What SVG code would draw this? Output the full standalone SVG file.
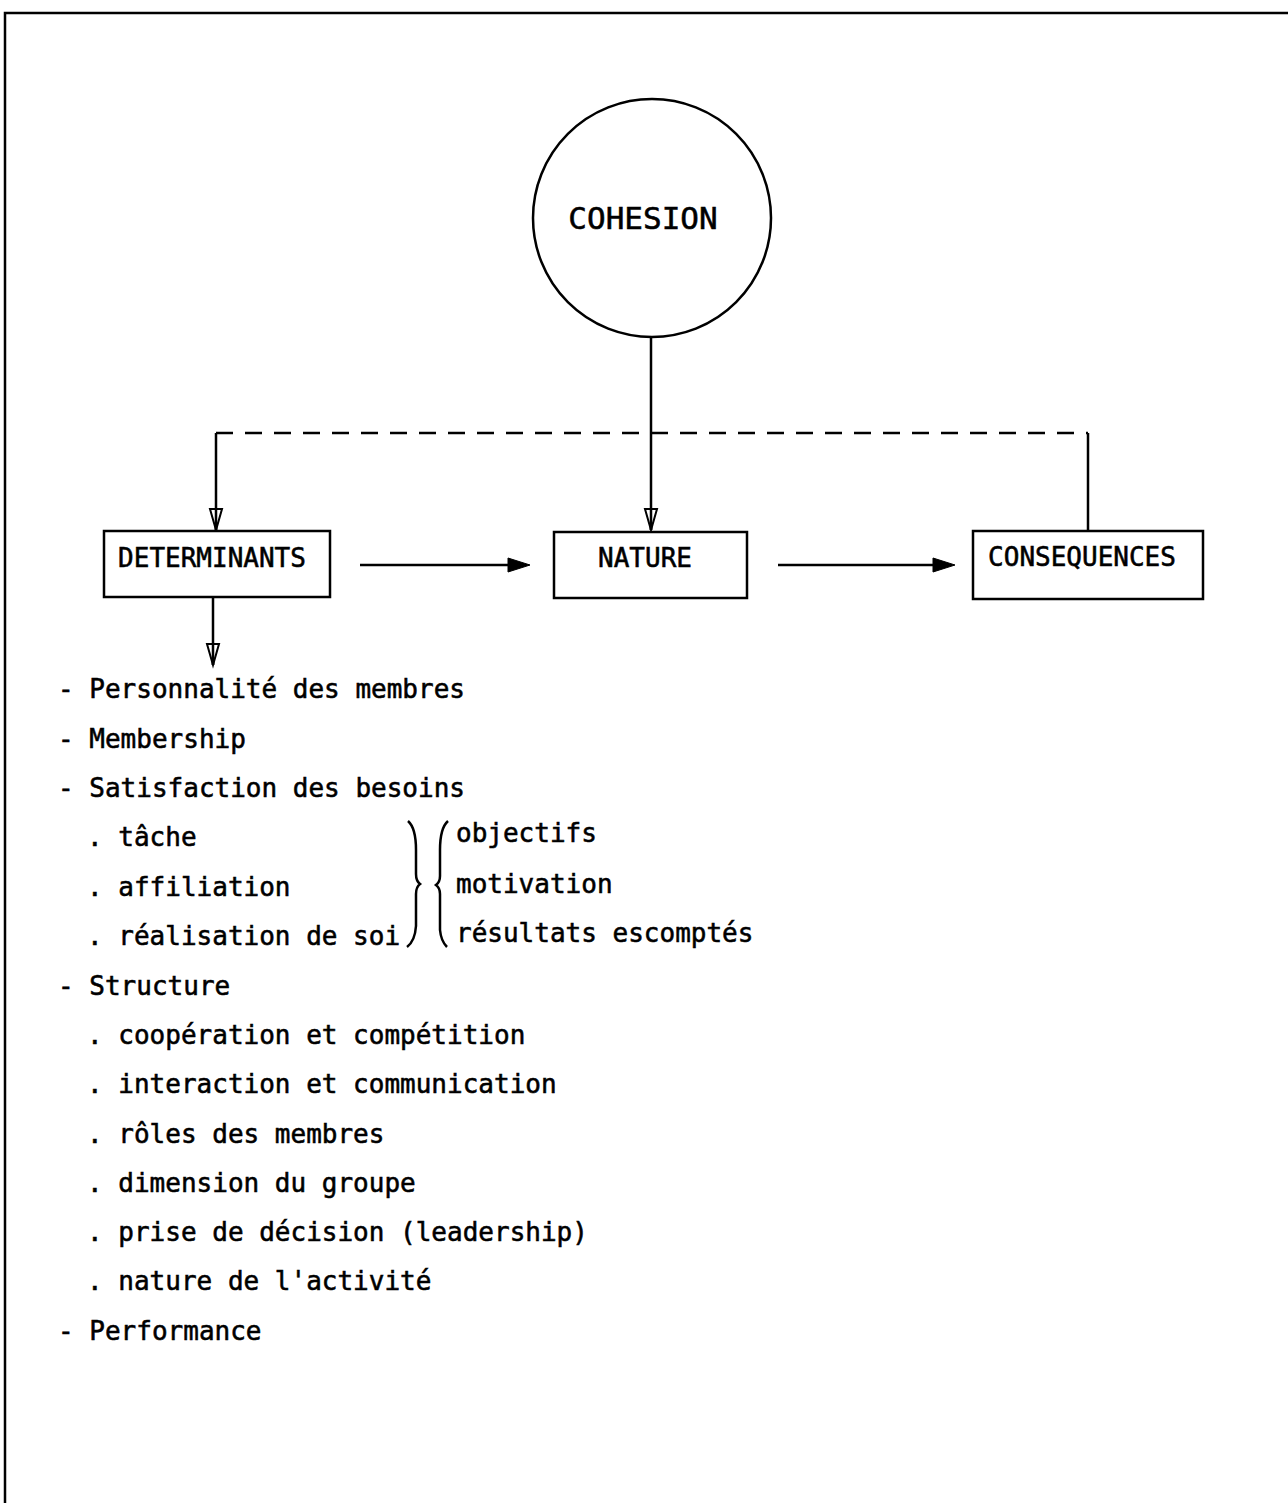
<svg xmlns="http://www.w3.org/2000/svg" width="1288" height="1503" viewBox="0 0 1288 1503">
  <style>
    .ln { stroke: #000; stroke-width: 2.5; fill: none; }
    .dash { stroke: #000; stroke-width: 2.5; fill: none; stroke-dasharray: 17 12; }
    .box { stroke: #000; stroke-width: 2.5; fill: #fff; }
    .t { font-family: "DejaVu Sans Mono", "Liberation Mono", monospace; font-size: 26px; fill: #000; stroke: #000; stroke-width: 0.55; }
    .big { font-size: 31px; }
    .head { fill: #000; stroke: #000; stroke-width: 1; }
    .open { fill: #fff; stroke: #000; stroke-width: 2; }
  </style>
  <rect width="1288" height="1503" fill="#fff"/>

  <!-- page frame (top and left edges) -->
  <path class="ln" d="M5,1503 L5,13 L1288,13" stroke-width="3"/>

  <!-- connectors -->
  <g id="connectors">
    <line class="ln" x1="651" y1="337" x2="651" y2="530"/>
    <polygon class="open" points="651,530 645,509 657,509"/>
    <line class="ln" x1="651" y1="509" x2="651" y2="530"/>

    <line class="dash" x1="216" y1="433" x2="1088" y2="433"/>
    <path class="ln" d="M216,433 L216,530"/>
    <polygon class="open" points="216,530 210,509 222,509"/>
    <line class="ln" x1="216" y1="509" x2="216" y2="530"/>
    <path class="ln" d="M1088,433 L1088,531"/>

    <line class="ln" x1="213" y1="597" x2="213" y2="665"/>
    <polygon class="open" points="213,665 207,644 219,644"/>
    <line class="ln" x1="213" y1="644" x2="213" y2="665"/>

    <line class="ln" x1="360" y1="565" x2="512" y2="565"/>
    <polygon class="head" points="530,565 508,558 508,572"/>
    <line class="ln" x1="778" y1="565" x2="937" y2="565"/>
    <polygon class="head" points="955,565 933,558 933,572"/>
  </g>

  <g id="cohesion">
    <circle class="ln" cx="652" cy="218" r="119"/>
    <text class="t big" x="643" y="229" text-anchor="middle">COHESION</text>
  </g>

  <g id="determinants">
    <rect class="box" x="104" y="531" width="226" height="66"/>
    <text class="t" x="212" y="567" text-anchor="middle">DETERMINANTS</text>
  </g>

  <g id="nature">
    <rect class="box" x="554" y="532" width="193" height="66"/>
    <text class="t" x="645" y="567" text-anchor="middle">NATURE</text>
  </g>

  <g id="consequences">
    <rect class="box" x="973" y="531" width="230" height="68"/>
    <text class="t" x="1082" y="566" text-anchor="middle">CONSEQUENCES</text>
  </g>

  <g id="list">
    <text class="t" x="58" y="698">- Personnalité des membres</text>
    <text class="t" x="58" y="748">- Membership</text>
    <text class="t" x="58" y="797">- Satisfaction des besoins</text>
    <text class="t" x="87" y="846">. tâche</text>
    <text class="t" x="87" y="896">. affiliation</text>
    <text class="t" x="87" y="945">. réalisation de soi</text>
    <text class="t" x="58" y="995">- Structure</text>
    <text class="t" x="87" y="1044">. coopération et compétition</text>
    <text class="t" x="87" y="1093">. interaction et communication</text>
    <text class="t" x="87" y="1143">. rôles des membres</text>
    <text class="t" x="87" y="1192">. dimension du groupe</text>
    <text class="t" x="87" y="1241">. prise de décision (leadership)</text>
    <text class="t" x="87" y="1290">. nature de l'activité</text>
    <text class="t" x="58" y="1340">- Performance</text>
  </g>

  <g id="needs">
    <path class="ln" stroke-width="3.2" d="M408,821 Q416,828 416,850 L416,874 Q416,881 420,884 Q416,887 416,894 L416,926 Q415,941 407,947"/>
    <path class="ln" stroke-width="3.2" d="M448,821 Q440,828 440,850 L440,876 Q440,882 436,885 Q440,888 440,894 L440,930 Q441,941 447,947"/>
    <text class="t" x="456" y="842">objectifs</text>
    <text class="t" x="456" y="893">motivation</text>
    <text class="t" x="456" y="942">résultats escomptés</text>
  </g>
</svg>
